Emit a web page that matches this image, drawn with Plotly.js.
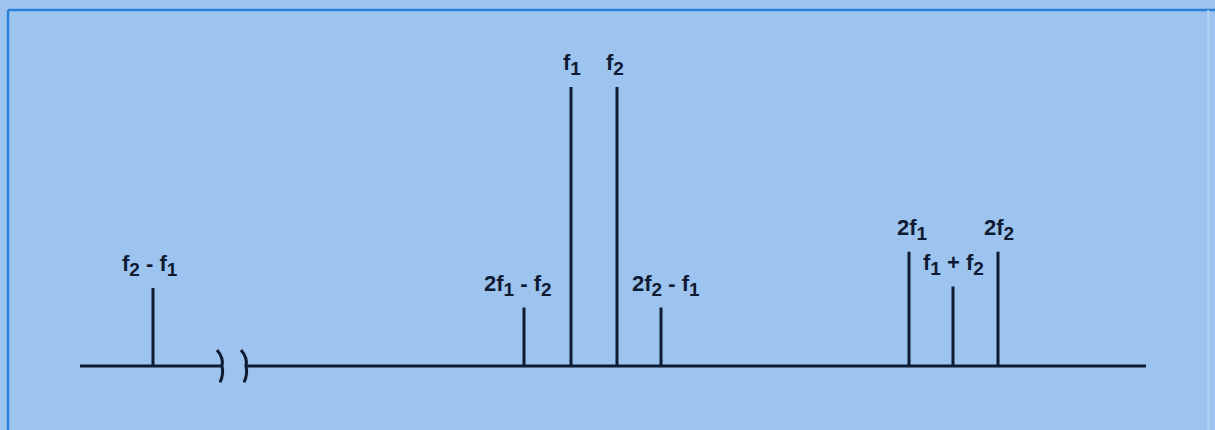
<!DOCTYPE html>
<html>
<head>
<meta charset="utf-8">
<script src="https://cdn.plot.ly/plotly-3.0.1.min.js"></script>
<style>
  html, body { margin: 0; padding: 0; background: #9dc4ee; }
  #chart { width: 1215px; height: 430px; }
</style>
</head>
<body>
<div id="chart"></div>
<script>
// Intermodulation spectrum: two tones f1, f2 and their mixing products.
// Positions are along a (non-linear, broken) frequency axis; amplitudes are relative to f1.
const componentLabels = ['f2-f1', '2f1-f2', 'f1', 'f2', '2f2-f1', '2f1', 'f1+f2', '2f2'];
const componentParts = [
  [['f', '2'], ' - ', ['f', '1']],
  [['2f', '1'], ' - ', ['f', '2']],
  [['f', '1']],
  [['f', '2']],
  [['2f', '2'], ' - ', ['f', '1']],
  [['2f', '1']],
  [['f', '1'], ' + ', ['f', '2']],
  [['2f', '2']]
];
const componentPos = [153, 524, 571, 617, 661, 909, 953, 998];
const componentAmp = [0.28, 0.21, 1.0, 1.0, 0.21, 0.41, 0.285, 0.41];

// frequency axis extent and the break between the low and high bands
const axisStart = 80;
const axisEnd = 1146;
const breakLeft = 221;
const breakRight = 245;

const ink = '#0f1a33';
const labelFont = 'Liberation Sans, Arial, sans-serif';

// build label markup with enlarged subscripts
function labelMarkup(parts) {
  return parts.map(p => typeof p === 'string'
    ? p
    : `${p[0]}<sub><span style="font-size:19px">${p[1]}</span></sub>`).join('');
}

// stems: one trace, segments separated by nulls
const stemX = [], stemY = [];
componentPos.forEach((x, i) => {
  stemX.push(x, x, null);
  stemY.push(0, componentAmp[i], null);
});

const traces = [
  {
    type: 'scatter', mode: 'lines',
    x: [axisStart, breakLeft, null, breakRight, axisEnd],
    y: [0, 0, null, 0, 0],
    line: { color: ink, width: 3 },
    hoverinfo: 'skip', showlegend: false
  },
  {
    type: 'scatter', mode: 'lines',
    x: stemX, y: stemY,
    line: { color: ink, width: 3 },
    hoverinfo: 'skip', showlegend: false
  }
];

const labelOffsetX = [-3, -6, 1, -2, 5, 3, 0, 1];

const annotations = componentPos.map((x, i) => ({
  x: x, y: componentAmp[i],
  xref: 'x', yref: 'y',
  text: labelMarkup(componentParts[i]),
  showarrow: false,
  xanchor: 'center', yanchor: 'bottom',
  xshift: labelOffsetX[i],
  yshift: 6,
  font: { family: labelFont, size: 22, color: ink, weight: 'bold' }
}));

// break marks: two small curved strokes across the axis line
function breakPath(xc) {
  const h = 0.058;
  return `M ${xc - 4} ${h} Q ${xc + 3} ${h * 0.5} ${xc + 1} 0 Q ${xc + 3} ${-h * 0.5} ${xc - 1} ${-h}`;
}

const shapes = [
  { type: 'path', path: breakPath(breakLeft), xref: 'x', yref: 'y', line: { color: ink, width: 3 } },
  { type: 'path', path: breakPath(breakRight), xref: 'x', yref: 'y', line: { color: ink, width: 3 } },
  // frame around the panel
  { type: 'line', xref: 'paper', yref: 'paper', x0: 0.0066, x1: 1, y0: 0.977, y1: 0.977, line: { color: '#2a7fd9', width: 2.5 } },
  { type: 'line', xref: 'paper', yref: 'paper', x0: 0.0066, x1: 0.0066, y0: 0, y1: 0.977, line: { color: '#2a7fd9', width: 2.5 } },
  { type: 'line', xref: 'paper', yref: 'paper', x0: 0.9945, x1: 0.9945, y0: 0, y1: 0.977, line: { color: '#b3d3f3', width: 2 } }
];

const layout = {
  width: 1215, height: 430,
  margin: { l: 0, r: 0, t: 0, b: 0 },
  paper_bgcolor: '#9dc4ee',
  plot_bgcolor: '#9dc4ee',
  xaxis: { range: [0, 1215], visible: false, fixedrange: true },
  yaxis: { range: [-0.229, 1.312], visible: false, fixedrange: true },
  annotations: annotations,
  shapes: shapes,
  showlegend: false
};

Plotly.newPlot('chart', traces, layout, { displayModeBar: false, staticPlot: true });
</script>
</body>
</html>
